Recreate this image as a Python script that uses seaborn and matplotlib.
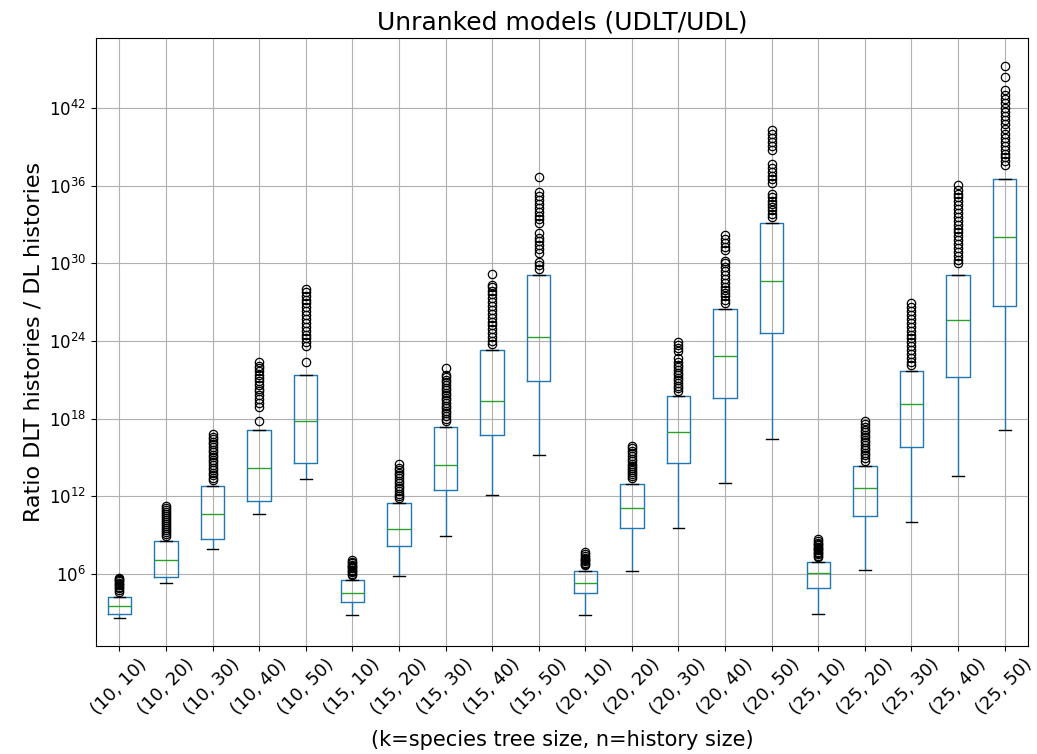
import matplotlib
matplotlib.use("Agg")
import matplotlib.pyplot as plt
import matplotlib.ticker as mticker
import pandas as pd
import seaborn as sns

# (k, n) pairs
labels = ["(10, 10)", "(10, 20)", "(10, 30)", "(10, 40)", "(10, 50)",
          "(15, 10)", "(15, 20)", "(15, 30)", "(15, 40)", "(15, 50)",
          "(20, 10)", "(20, 20)", "(20, 30)", "(20, 40)", "(20, 50)",
          "(25, 10)", "(25, 20)", "(25, 30)", "(25, 40)", "(25, 50)"]

# box statistics, as log10 of the ratio
lo = [2.54, 5.25, 7.94, 10.65, 13.36, 2.77, 5.79, 8.92, 12.07, 15.2,
      2.77, 6.21, 9.57, 13.03, 16.39, 2.87, 6.31, 10.0, 13.57, 17.14]
q1 = [2.85, 5.77, 8.69, 11.6, 14.53, 3.83, 8.17, 12.49, 16.7, 20.9,
      4.48, 9.57, 14.53, 19.62, 24.6, 4.91, 10.44, 15.82, 21.25, 26.68]
med = [3.52, 7.09, 10.65, 14.2, 17.78, 4.5, 9.46, 14.42, 19.39, 24.3,
       5.25, 11.09, 16.93, 22.8, 28.64, 6.03, 12.62, 19.1, 25.6, 32.05]
q3 = [4.19, 8.51, 12.82, 17.1, 21.4, 5.48, 11.43, 17.37, 23.29, 29.13,
      6.21, 12.93, 19.72, 26.5, 33.14, 6.9, 14.32, 21.68, 29.13, 36.5]

# outliers (log10)
outliers = [
    [4.62, 4.75, 4.9, 5.0, 5.1, 5.2, 5.3, 5.4, 5.5, 5.6, 5.65],
    [8.95, 9.1, 9.25, 9.4, 9.55, 9.7, 9.85, 10.0, 10.15, 10.3, 10.45, 10.6, 10.75, 10.9, 11.05, 11.2],
    [13.25, 13.4, 13.6, 13.8, 14.0, 14.2, 14.4, 14.6, 14.8, 15.0, 15.2, 15.4, 15.6, 15.8, 16.0, 16.2, 16.4, 16.6, 16.8],
    [17.8, 18.9, 19.2, 19.5, 19.8, 20.1, 20.3, 20.6, 20.9, 21.1, 21.4, 21.7, 21.9, 22.1, 22.4],
    [22.4, 23.6, 23.9, 24.2, 24.5, 24.8, 25.1, 25.4, 25.7, 26.0, 26.3, 26.6, 26.9, 27.2, 27.5, 27.8, 28.05],
    [5.92, 6.0, 6.1, 6.2, 6.3, 6.4, 6.5, 6.6, 6.7, 6.8, 6.9, 7.06],
    [11.85, 12.0, 12.2, 12.4, 12.6, 12.8, 13.0, 13.2, 13.4, 13.6, 13.8, 14.0, 14.2, 14.48],
    [17.8, 18.0, 18.2, 18.4, 18.6, 18.8, 19.0, 19.2, 19.4, 19.6, 19.8, 20.0, 20.2, 20.4, 20.6, 20.8, 21.0, 21.2, 21.35, 21.9],
    [23.75, 24.0, 24.3, 24.6, 24.9, 25.2, 25.5, 25.8, 26.1, 26.4, 26.7, 27.0, 27.3, 27.6, 27.9, 28.2, 28.35, 29.2],
    [29.6, 29.85, 30.1, 30.8, 31.1, 31.4, 31.7, 32.0, 32.35, 33.1, 33.4, 33.7, 34.0, 34.3, 34.6, 34.9, 35.2, 35.5, 36.7],
    [6.65, 6.75, 6.85, 6.95, 7.05, 7.15, 7.25, 7.4, 7.55, 7.7],
    [13.4, 13.55, 13.7, 13.85, 14.0, 14.15, 14.3, 14.5, 14.7, 14.9, 15.1, 15.3, 15.5, 15.7, 15.9],
    [20.15, 20.35, 20.55, 20.75, 20.95, 21.15, 21.35, 21.55, 21.75, 21.95, 22.15, 22.4, 22.7, 23.2, 23.45, 23.7, 23.95],
    [26.95, 27.2, 27.45, 27.7, 27.95, 28.2, 28.5, 28.8, 29.1, 29.4, 29.7, 30.0, 30.2, 31.0, 31.3, 31.6, 31.9, 32.2],
    [33.6, 33.85, 34.1, 34.35, 34.6, 34.85, 35.1, 35.4, 36.2, 36.5, 36.8, 37.1, 37.4, 37.7, 38.8, 39.1, 39.4, 39.7, 40.0, 40.3],
    [7.32, 7.4, 7.5, 7.6, 7.7, 7.8, 7.9, 8.0, 8.1, 8.2, 8.3, 8.4, 8.5, 8.66],
    [14.75, 14.95, 15.15, 15.35, 15.55, 15.75, 15.95, 16.15, 16.35, 16.55, 16.75, 16.95, 17.15, 17.35, 17.55, 17.83],
    [22.15, 22.4, 22.7, 23.0, 23.3, 23.6, 23.9, 24.2, 24.5, 24.8, 25.1, 25.4, 25.7, 26.0, 26.3, 26.6, 26.9],
    [30.0, 30.3, 30.6, 30.9, 31.2, 31.5, 31.8, 32.1, 32.4, 32.7, 33.0, 33.3, 33.6, 33.9, 34.2, 34.5, 34.8, 35.1, 35.4, 35.7, 36.1],
    [37.6, 37.9, 38.2, 38.5, 38.8, 39.1, 39.4, 39.7, 40.0, 40.4, 40.8, 41.1, 41.4, 41.7, 42.0, 42.4, 42.7, 43.0, 43.4, 44.4, 45.3],
]

# build a sample per group whose quartiles are exactly the values above
rows = []
for lab, l, a, m, b, out in zip(labels, lo, q1, med, q3, outliers):
    n = len(out) + 1
    vals = [l] + [a] * n + [m] * n + [b] * (n + 1) + list(out)
    for v in vals:
        rows.append({"pair": lab, "ratio": 10.0 ** v})
df = pd.DataFrame(rows)

fig = plt.figure(figsize=(10.37, 7.54), dpi=100)
ax = fig.add_axes([0.0926, 0.1432, 0.8987, 0.8064])

sns.boxplot(data=df, x="pair", y="ratio", order=labels, ax=ax,
            color="#1f77b4", fill=False, width=0.5, linewidth=1,
            fliersize=6, capwidths=0.25,
            boxprops={"color": "#1f77b4"},
            whiskerprops={"color": "#1f77b4"},
            medianprops={"color": "#2ca02c"},
            capprops={"color": "black"},
            flierprops={"marker": "o", "markeredgecolor": "black",
                        "markerfacecolor": "none", "markeredgewidth": 0.9})

ax.set_yscale("log")
ax.set_yticks([10.0 ** e for e in range(6, 43, 6)])
ax.yaxis.set_minor_locator(mticker.NullLocator())
ax.grid(True, color="#b0b0b0", linewidth=0.8)
ax.set_axisbelow(True)

plt.xticks(rotation=45, fontsize=13)
plt.yticks(fontsize=12)
ax.set_xlabel("(k=species tree size, n=history size)", fontsize=15, labelpad=8)
ax.set_ylabel("Ratio DLT histories / DL histories", fontsize=16)
ax.set_title("Unranked models (UDLT/UDL)", fontsize=18)

fig.savefig("out.png", dpi=100)
